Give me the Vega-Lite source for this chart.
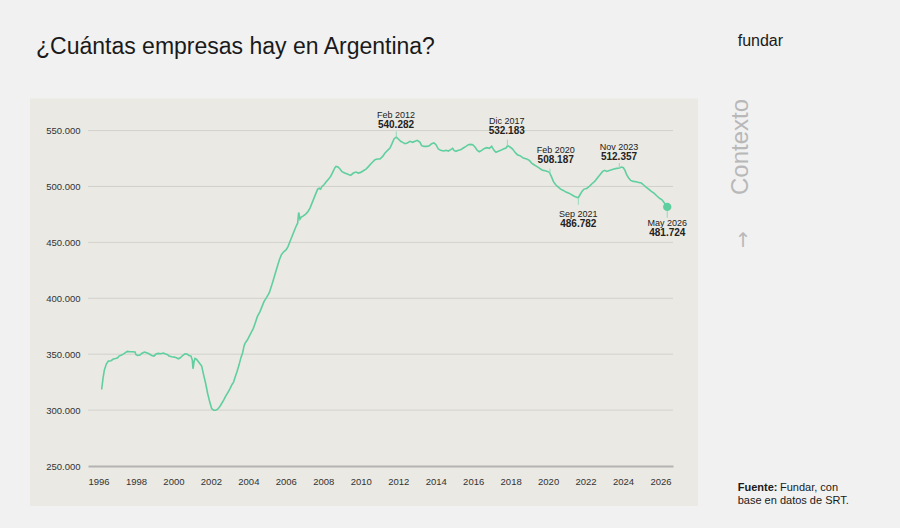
{
  "$schema": "https://vega.github.io/schema/vega-lite/v6.json",
  "autosize": "none",
  "width": 585,
  "height": 369,
  "padding": {"left": 88, "top": 97, "right": 227, "bottom": 62},
  "background": "#f1f1f1",
  "config": {
    "view": {"stroke": null},
    "locale": {"number": {"decimal": ",", "thousands": ".", "grouping": [3], "currency": ["$", ""]}},
    "axis": {"labelFont": "Liberation Sans", "labelFontSize": 9.5, "labelColor": "#333333"}
  },
  "datasets": {
    "serie": [
      {"t": 1996.142, "v": 318429}, {"t": 1996.214, "v": 328285}, {"t": 1996.285, "v": 335752},
      {"t": 1996.391, "v": 341129}, {"t": 1996.498, "v": 343817}, {"t": 1996.641, "v": 344116},
      {"t": 1996.765, "v": 345609}, {"t": 1996.890, "v": 346207}, {"t": 1996.996, "v": 346804},
      {"t": 1997.068, "v": 348297}, {"t": 1997.210, "v": 349193}, {"t": 1997.352, "v": 350687},
      {"t": 1997.512, "v": 352479}, {"t": 1997.655, "v": 352180}, {"t": 1997.779, "v": 352180},
      {"t": 1997.922, "v": 351882}, {"t": 1997.975, "v": 349492}, {"t": 1998.064, "v": 348895},
      {"t": 1998.189, "v": 349193}, {"t": 1998.278, "v": 350687}, {"t": 1998.420, "v": 351882},
      {"t": 1998.545, "v": 351284}, {"t": 1998.669, "v": 350388}, {"t": 1998.811, "v": 348895},
      {"t": 1998.936, "v": 348297}, {"t": 1999.043, "v": 350090}, {"t": 1999.167, "v": 350687},
      {"t": 1999.292, "v": 350388}, {"t": 1999.434, "v": 350985}, {"t": 1999.559, "v": 350090},
      {"t": 1999.665, "v": 349492}, {"t": 1999.737, "v": 348297}, {"t": 1999.879, "v": 347700},
      {"t": 2000.022, "v": 347401}, {"t": 2000.128, "v": 346804}, {"t": 2000.235, "v": 345908},
      {"t": 2000.342, "v": 346804}, {"t": 2000.448, "v": 348596}, {"t": 2000.591, "v": 350388},
      {"t": 2000.698, "v": 350090}, {"t": 2000.804, "v": 348895}, {"t": 2000.911, "v": 348297},
      {"t": 2000.982, "v": 344713}, {"t": 2001.018, "v": 336947}, {"t": 2001.072, "v": 343219},
      {"t": 2001.125, "v": 346207}, {"t": 2001.214, "v": 345311}, {"t": 2001.339, "v": 342622},
      {"t": 2001.481, "v": 339337}, {"t": 2001.588, "v": 331272}, {"t": 2001.694, "v": 323805},
      {"t": 2001.801, "v": 314844}, {"t": 2001.908, "v": 307377}, {"t": 2002.014, "v": 301403},
      {"t": 2002.121, "v": 299910}, {"t": 2002.228, "v": 299910}, {"t": 2002.335, "v": 300806},
      {"t": 2002.442, "v": 302897}, {"t": 2002.548, "v": 305883}, {"t": 2002.655, "v": 308870},
      {"t": 2002.762, "v": 312454}, {"t": 2002.868, "v": 315441}, {"t": 2002.975, "v": 318428},
      {"t": 2003.082, "v": 322311}, {"t": 2003.189, "v": 325298}, {"t": 2003.260, "v": 329181},
      {"t": 2003.366, "v": 334260}, {"t": 2003.473, "v": 340233}, {"t": 2003.580, "v": 347103},
      {"t": 2003.669, "v": 351284}, {"t": 2003.740, "v": 357154}, {"t": 2003.794, "v": 359648},
      {"t": 2003.918, "v": 362633}, {"t": 2004.025, "v": 366218}, {"t": 2004.150, "v": 370101},
      {"t": 2004.239, "v": 373088}, {"t": 2004.345, "v": 378166}, {"t": 2004.452, "v": 383542},
      {"t": 2004.594, "v": 388022}, {"t": 2004.701, "v": 392502}, {"t": 2004.808, "v": 396983},
      {"t": 2004.950, "v": 400866}, {"t": 2005.093, "v": 405047}, {"t": 2005.199, "v": 410424},
      {"t": 2005.306, "v": 416398}, {"t": 2005.413, "v": 422371}, {"t": 2005.520, "v": 428345},
      {"t": 2005.626, "v": 434319}, {"t": 2005.733, "v": 438799}, {"t": 2005.840, "v": 441189},
      {"t": 2005.982, "v": 443280}, {"t": 2006.089, "v": 446266}, {"t": 2006.196, "v": 450747},
      {"t": 2006.303, "v": 455227}, {"t": 2006.409, "v": 459708}, {"t": 2006.516, "v": 464188},
      {"t": 2006.605, "v": 467175}, {"t": 2006.659, "v": 476733}, {"t": 2006.730, "v": 470759},
      {"t": 2006.801, "v": 472551}, {"t": 2006.908, "v": 473746}, {"t": 2007.050, "v": 475538},
      {"t": 2007.157, "v": 477629}, {"t": 2007.264, "v": 480616}, {"t": 2007.370, "v": 485096},
      {"t": 2007.477, "v": 489577}, {"t": 2007.584, "v": 494057}, {"t": 2007.673, "v": 497641},
      {"t": 2007.762, "v": 498537}, {"t": 2007.833, "v": 497641}, {"t": 2007.904, "v": 500031},
      {"t": 2008.011, "v": 501524}, {"t": 2008.118, "v": 503913}, {"t": 2008.260, "v": 506602},
      {"t": 2008.367, "v": 508991}, {"t": 2008.474, "v": 512576}, {"t": 2008.580, "v": 516459},
      {"t": 2008.652, "v": 517952}, {"t": 2008.758, "v": 517355}, {"t": 2008.865, "v": 515563},
      {"t": 2008.972, "v": 513173}, {"t": 2009.114, "v": 511979}, {"t": 2009.256, "v": 511083},
      {"t": 2009.434, "v": 509888}, {"t": 2009.577, "v": 511978}, {"t": 2009.719, "v": 512874},
      {"t": 2009.844, "v": 511978}, {"t": 2009.968, "v": 512575}, {"t": 2010.111, "v": 514068},
      {"t": 2010.253, "v": 515562}, {"t": 2010.395, "v": 517951}, {"t": 2010.555, "v": 520938},
      {"t": 2010.733, "v": 523925}, {"t": 2010.858, "v": 524522}, {"t": 2011.000, "v": 524522},
      {"t": 2011.143, "v": 526912}, {"t": 2011.267, "v": 529899}, {"t": 2011.392, "v": 531990},
      {"t": 2011.534, "v": 534379}, {"t": 2011.641, "v": 538262}, {"t": 2011.748, "v": 542444},
      {"t": 2011.870, "v": 544236}, {"t": 2011.979, "v": 542444}, {"t": 2012.104, "v": 540353},
      {"t": 2012.210, "v": 539457}, {"t": 2012.335, "v": 538262}, {"t": 2012.459, "v": 538860},
      {"t": 2012.602, "v": 540353}, {"t": 2012.744, "v": 539457}, {"t": 2012.869, "v": 540353},
      {"t": 2012.993, "v": 541250}, {"t": 2013.136, "v": 539457}, {"t": 2013.224, "v": 536470},
      {"t": 2013.349, "v": 535873}, {"t": 2013.491, "v": 535873}, {"t": 2013.634, "v": 536470},
      {"t": 2013.758, "v": 538262}, {"t": 2013.883, "v": 538860}, {"t": 2013.990, "v": 537366},
      {"t": 2014.114, "v": 533483}, {"t": 2014.239, "v": 532289}, {"t": 2014.381, "v": 531691},
      {"t": 2014.524, "v": 532289}, {"t": 2014.648, "v": 531691}, {"t": 2014.773, "v": 532886},
      {"t": 2014.879, "v": 534081}, {"t": 2014.950, "v": 532289}, {"t": 2015.057, "v": 531393},
      {"t": 2015.182, "v": 532289}, {"t": 2015.306, "v": 532886}, {"t": 2015.449, "v": 534379},
      {"t": 2015.591, "v": 535873}, {"t": 2015.716, "v": 537366}, {"t": 2015.840, "v": 537665},
      {"t": 2015.947, "v": 537366}, {"t": 2016.072, "v": 535276}, {"t": 2016.196, "v": 532289},
      {"t": 2016.303, "v": 531094}, {"t": 2016.428, "v": 532289}, {"t": 2016.552, "v": 533782},
      {"t": 2016.694, "v": 534678}, {"t": 2016.837, "v": 534081}, {"t": 2016.961, "v": 535873},
      {"t": 2017.086, "v": 532289}, {"t": 2017.193, "v": 530497}, {"t": 2017.317, "v": 531393},
      {"t": 2017.442, "v": 532289}, {"t": 2017.584, "v": 533483}, {"t": 2017.727, "v": 534379},
      {"t": 2017.815, "v": 536470}, {"t": 2017.940, "v": 535276}, {"t": 2018.082, "v": 533483},
      {"t": 2018.207, "v": 530497}, {"t": 2018.332, "v": 528406}, {"t": 2018.474, "v": 527510},
      {"t": 2018.652, "v": 525419}, {"t": 2018.830, "v": 524523}, {"t": 2018.972, "v": 523328},
      {"t": 2019.097, "v": 520939}, {"t": 2019.221, "v": 519445}, {"t": 2019.364, "v": 517952},
      {"t": 2019.506, "v": 516458}, {"t": 2019.630, "v": 514965}, {"t": 2019.719, "v": 514367},
      {"t": 2019.826, "v": 514069}, {"t": 2019.933, "v": 513471}, {"t": 2020.040, "v": 512575},
      {"t": 2020.146, "v": 508991}, {"t": 2020.253, "v": 504510}, {"t": 2020.378, "v": 501523},
      {"t": 2020.520, "v": 499433}, {"t": 2020.645, "v": 497640}, {"t": 2020.787, "v": 496445},
      {"t": 2020.929, "v": 494952}, {"t": 2021.054, "v": 494056}, {"t": 2021.179, "v": 493160},
      {"t": 2021.321, "v": 491667}, {"t": 2021.463, "v": 490472}, {"t": 2021.588, "v": 489900},
      {"t": 2021.677, "v": 492563}, {"t": 2021.783, "v": 495550}, {"t": 2021.890, "v": 497640},
      {"t": 2022.033, "v": 498238}, {"t": 2022.175, "v": 500030}, {"t": 2022.317, "v": 502420},
      {"t": 2022.460, "v": 504510}, {"t": 2022.602, "v": 507497}, {"t": 2022.744, "v": 510484},
      {"t": 2022.887, "v": 513471}, {"t": 2022.993, "v": 514367}, {"t": 2023.100, "v": 513471},
      {"t": 2023.243, "v": 514367}, {"t": 2023.367, "v": 514965}, {"t": 2023.492, "v": 515562},
      {"t": 2023.634, "v": 516159}, {"t": 2023.776, "v": 516458}, {"t": 2023.901, "v": 517355},
      {"t": 2023.990, "v": 516757}, {"t": 2024.079, "v": 514367}, {"t": 2024.168, "v": 510484},
      {"t": 2024.275, "v": 507497}, {"t": 2024.382, "v": 505406}, {"t": 2024.524, "v": 504510},
      {"t": 2024.666, "v": 504212}, {"t": 2024.809, "v": 503614}, {"t": 2024.951, "v": 503017},
      {"t": 2025.058, "v": 501523}, {"t": 2025.200, "v": 499433}, {"t": 2025.342, "v": 497640},
      {"t": 2025.485, "v": 495549}, {"t": 2025.627, "v": 494056}, {"t": 2025.770, "v": 491666},
      {"t": 2025.912, "v": 489575}, {"t": 2026.054, "v": 488082}, {"t": 2026.161, "v": 485692},
      {"t": 2026.268, "v": 482705}, {"t": 2026.333, "v": 481724}
    ],
    "anotaciones": [
      {"fecha": "Feb 2012", "valor": "540.282", "t": 2011.87, "v": 544000, "v_tick": 549284, "t_texto": 2011.854, "v_texto": 563621},
      {"fecha": "Dic 2017", "valor": "532.183", "t": 2017.80, "v": 536200, "v_tick": 541845, "t_texto": 2017.764, "v_texto": 558865},
      {"fecha": "Feb 2020", "valor": "508.187", "t": 2020.075, "v": 511400, "v_tick": 515860, "t_texto": 2020.379, "v_texto": 532886},
      {"fecha": "Nov 2023", "valor": "512.357", "t": 2023.774, "v": 516400, "v_tick": 520971, "t_texto": 2023.758, "v_texto": 534947},
      {"fecha": "Sep 2021", "valor": "486.782", "t": 2021.586, "v": 489900, "v_tick": 483604, "t_texto": 2021.586, "v_texto": 475537},
      {"fecha": "May 2026", "valor": "481.724", "t": 2026.333, "v": 481724, "v_tick": 471955, "t_texto": 2026.337, "v_texto": 467742}
    ],
    "grilla": [
      {"g": 300000}, {"g": 350000}, {"g": 400000}, {"g": 450000}, {"g": 500000}, {"g": 550000}
    ],
    "anios": [
      {"a": 1996}, {"a": 1998}, {"a": 2000}, {"a": 2002}, {"a": 2004}, {"a": 2006}, {"a": 2008}, {"a": 2010},
      {"a": 2012}, {"a": 2014}, {"a": 2016}, {"a": 2018}, {"a": 2020}, {"a": 2022}, {"a": 2024}, {"a": 2026}
    ],
    "uno": [{}]
  },
  "layer": [
    {
      "data": {"name": "uno"},
      "mark": {"type": "rect", "color": "#eae9e3"},
      "encoding": {
        "x": {
          "datum": 1992.317,
          "type": "quantitative",
          "scale": {"domain": [1995.413, 2026.641], "nice": false, "zero": false},
          "axis": {
            "title": null,
            "grid": false,
            "ticks": false,
            "labels": false,
            "domainColor": "#b3b3b3",
            "domainWidth": 2,
            "zindex": 1
          }
        },
        "x2": {"datum": 2027.976},
        "y": {
          "datum": 214158,
          "type": "quantitative",
          "scale": {"domain": [250000, 580000], "nice": false, "zero": false},
          "axis": {
            "values": [250000, 300000, 350000, 400000, 450000, 500000, 550000],
            "format": ",.0f",
            "title": null,
            "grid": false,
            "ticks": false,
            "domain": false,
            "labelPadding": 8,
            "labelOverlap": false,
            "zindex": 1
          }
        },
        "y2": {"datum": 578585}
      }
    },
    {
      "data": {"name": "grilla"},
      "mark": {"type": "rule", "color": "#d2d1cc", "strokeWidth": 1},
      "encoding": {"y": {"field": "g", "type": "quantitative"}}
    },
    {
      "data": {"name": "anios"},
      "mark": {"type": "text", "font": "Liberation Sans", "fontSize": 9.5, "color": "#333333", "baseline": "middle", "align": "center", "dy": 16},
      "encoding": {
        "x": {"field": "a", "type": "quantitative"},
        "y": {"datum": 250000, "type": "quantitative"},
        "text": {"field": "a", "type": "quantitative", "format": "d"}
      }
    },
    {
      "data": {"name": "serie"},
      "mark": {"type": "line", "color": "#5fcf9f", "strokeWidth": 1.6},
      "encoding": {
        "x": {"field": "t", "type": "quantitative"},
        "y": {"field": "v", "type": "quantitative"}
      }
    },
    {
      "data": {"name": "anotaciones"},
      "mark": {"type": "rule", "color": "#95d9ba", "strokeWidth": 1},
      "encoding": {
        "x": {"field": "t", "type": "quantitative"},
        "y": {"field": "v", "type": "quantitative"},
        "y2": {"field": "v_tick"}
      }
    },
    {
      "data": {"name": "anotaciones"},
      "transform": [{"filter": "datum.fecha === 'May 2026'"}],
      "mark": {"type": "point", "filled": true, "color": "#5fcf9f", "opacity": 1, "size": 70},
      "encoding": {
        "x": {"field": "t", "type": "quantitative"},
        "y": {"field": "v", "type": "quantitative"}
      }
    },
    {
      "data": {"name": "anotaciones"},
      "mark": {"type": "text", "font": "Liberation Sans", "fontSize": 9, "color": "#222222", "baseline": "middle", "align": "center"},
      "encoding": {
        "x": {"field": "t_texto", "type": "quantitative"},
        "y": {"field": "v_texto", "type": "quantitative"},
        "text": {"field": "fecha"}
      }
    },
    {
      "data": {"name": "anotaciones"},
      "mark": {"type": "text", "font": "Liberation Sans", "fontSize": 10, "fontWeight": "bold", "color": "#222222", "baseline": "middle", "align": "center", "dy": 10},
      "encoding": {
        "x": {"field": "t_texto", "type": "quantitative"},
        "y": {"field": "v_texto", "type": "quantitative"},
        "text": {"field": "valor"}
      }
    },
    {
      "data": {"name": "uno"},
      "mark": {"type": "text", "font": "Liberation Sans", "fontSize": 23, "color": "#1a1a1a", "align": "left", "baseline": "alphabetic"},
      "encoding": {
        "x": {"datum": 1992.637, "type": "quantitative"},
        "y": {"datum": 618187, "type": "quantitative"},
        "text": {"value": "¿Cuántas empresas hay en Argentina?"}
      }
    },
    {
      "data": {"name": "uno"},
      "mark": {"type": "text", "font": "Liberation Sans", "fontSize": 16, "color": "#1a1a1a", "align": "left", "baseline": "alphabetic"},
      "encoding": {
        "x": {"datum": 2030.095, "type": "quantitative"},
        "y": {"datum": 625449, "type": "quantitative"},
        "text": {"value": "fundar"}
      }
    },
    {
      "data": {"name": "uno"},
      "mark": {"type": "text", "font": "Liberation Sans", "fontSize": 24, "color": "#b8b8b8", "align": "center", "baseline": "middle", "angle": 270},
      "encoding": {
        "x": {"datum": 2030.255, "type": "quantitative"},
        "y": {"datum": 535306, "type": "quantitative"},
        "text": {"value": "Contexto"}
      }
    },
    {
      "data": {"name": "uno"},
      "mark": {"type": "text", "font": "DejaVu Sans", "fontSize": 20, "color": "#b8b8b8", "align": "center", "baseline": "middle"},
      "encoding": {
        "x": {"datum": 2030.38, "type": "quantitative"},
        "y": {"datum": 451345, "type": "quantitative"},
        "text": {"value": "↑"}
      }
    },
    {
      "data": {"name": "uno"},
      "mark": {"type": "text", "font": "Liberation Sans", "fontSize": 11, "fontWeight": "bold", "color": "#1a1a1a", "align": "left", "baseline": "alphabetic"},
      "encoding": {
        "x": {"datum": 2030.095, "type": "quantitative"},
        "y": {"datum": 227330, "type": "quantitative"},
        "text": {"value": "Fuente:"}
      }
    },
    {
      "data": {"name": "uno"},
      "mark": {"type": "text", "font": "Liberation Sans", "fontSize": 11, "color": "#1a1a1a", "align": "left", "baseline": "alphabetic"},
      "encoding": {
        "x": {"datum": 2032.353, "type": "quantitative"},
        "y": {"datum": 227330, "type": "quantitative"},
        "text": {"value": "Fundar, con"}
      }
    },
    {
      "data": {"name": "uno"},
      "mark": {"type": "text", "font": "Liberation Sans", "fontSize": 11, "color": "#1a1a1a", "align": "left", "baseline": "alphabetic"},
      "encoding": {
        "x": {"datum": 2030.095, "type": "quantitative"},
        "y": {"datum": 215681, "type": "quantitative"},
        "text": {"value": "base en datos de SRT."}
      }
    }
  ]
}
